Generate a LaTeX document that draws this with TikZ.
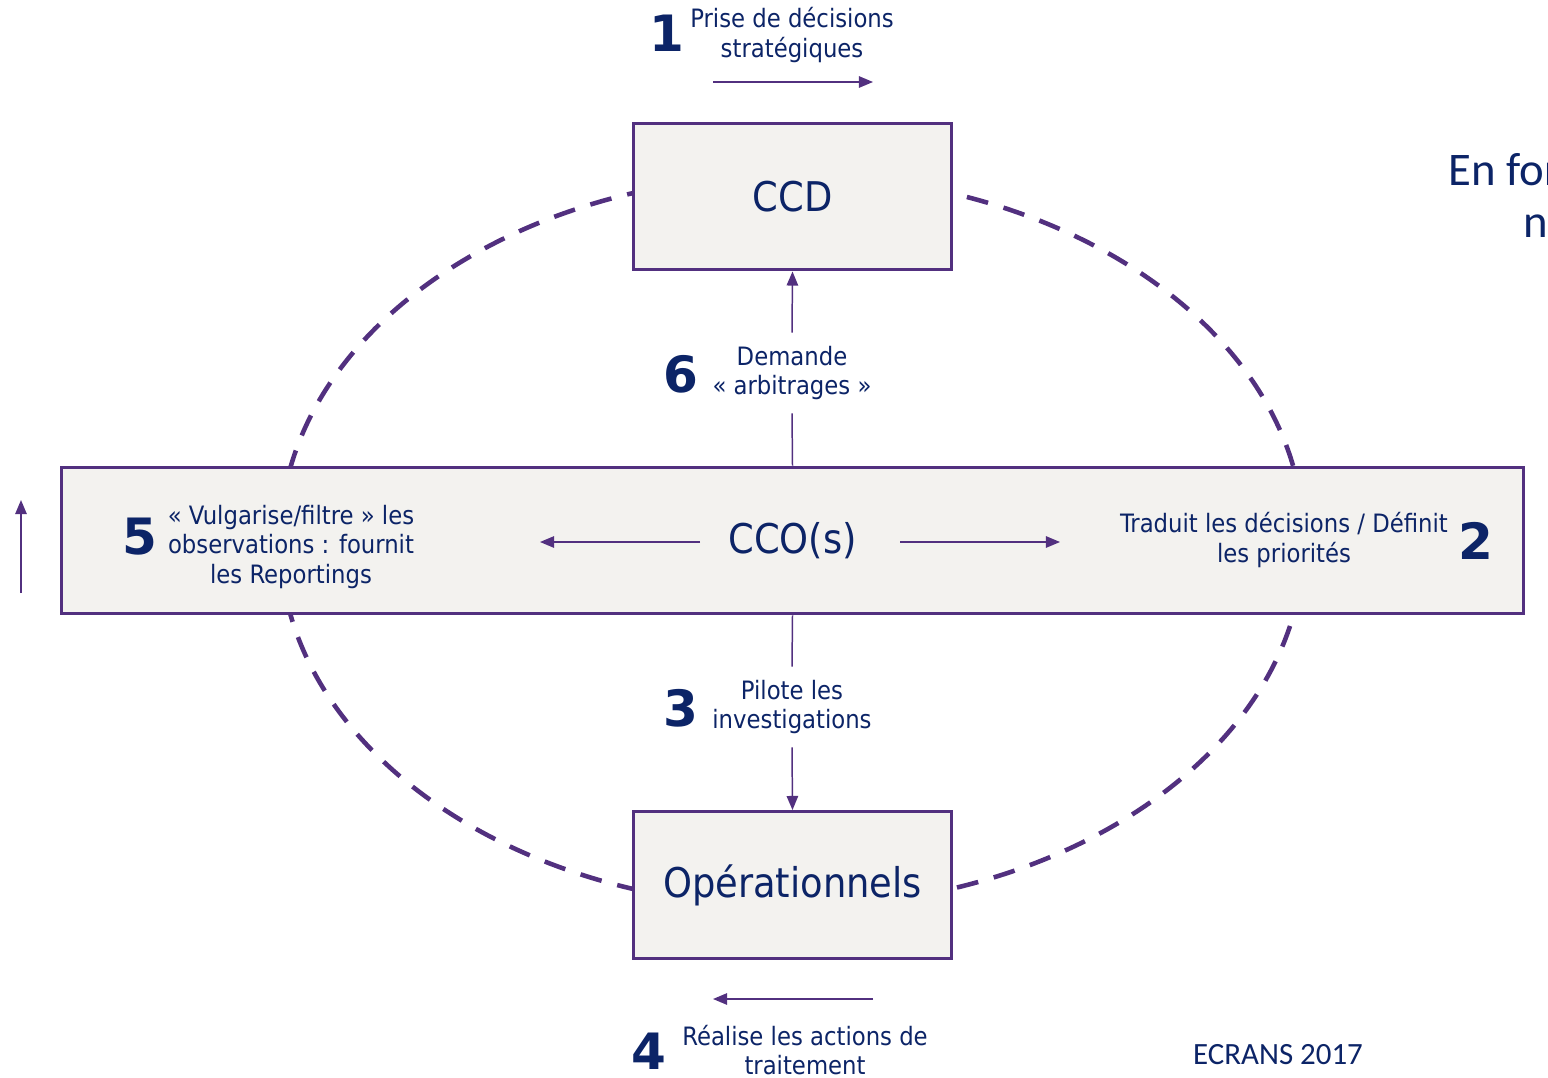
\documentclass[tikz,border=0pt]{standalone}
\usepackage{fontspec}
\setmainfont{DejaVu Sans Condensed}
\newfontfamily\numfont{DejaVu Sans}
\newfontfamily\calfont{Carlito}
\usetikzlibrary{arrows.meta, positioning}
\definecolor{gvnavy}{HTML}{0C2467}
\definecolor{gvpurple}{HTML}{52307F}
\definecolor{gvbox}{HTML}{F3F2EF}

\begin{document}
\begin{tikzpicture}[x=0.02cm, y=-0.02cm,
    box/.style={draw=gvpurple, line width=1.7pt, fill=gvbox, text=gvnavy,
                font=\fontsize{23.3}{28}\selectfont, inner sep=0pt,
                minimum height=2.94cm},
    lbl/.style={text=gvnavy, font=\fontsize{14.4}{17}\selectfont, align=center},
    num/.style={text=gvnavy, font=\numfont\bfseries\fontsize{28.5}{30}\selectfont},
    link/.style={draw=gvpurple, line width=0.85pt},
    flow/.style={link, -{Triangle[length=8pt,width=6.5pt]}},
    loop/.style={draw=gvpurple, line width=2.6pt, dash pattern=on 12.5pt off 9.2pt}]
\useasboundingbox (0,0) rectangle (1548,1078);
% Dashed loop behind the boxes
\draw[loop] (792,541) ellipse [x radius=10.24cm, y radius=7.32cm];
% Boxes
\node[box, minimum width=6.38cm] (ccd) at (792.5,196.5) {CCD};
\node[box, minimum width=29.26cm] (cco) at (792.5,540.5) {CCO(s)};
\node[box, minimum width=6.38cm] (oper) at (792.5,885) {Opérationnels};
% Step 1
\node[lbl] (l1) at (792,35) {Prise de décisions\\stratégiques};
\node[num] (n1) at (667,33) {1};
\coordinate (t1a) at (713,82);
\coordinate (t1b) at (873,82);
\draw[flow] (t1a) -- (t1b);
% Step 6
\node[lbl, minimum height=1.6cm] (l6) at (792,373) {Demande\\« arbitrages »};
\node[num] (n6) at (681,374) {6};
\draw[link] (cco.north) -- (l6.south);
\draw[flow] (l6.north) -- (ccd.south);
% Step 3
\node[lbl, minimum height=1.6cm] (l3) at (792,707) {Pilote les\\investigations};
\node[num] (n3) at (681,708) {3};
\draw[link] (cco.south) -- (l3.north);
\draw[flow] (l3.south) -- (oper.north);
% Steps 5 and 2 inside the CCO box
\node[lbl] (l5) at (291,547) {« Vulgarise/filtre » les\\observations : fournit\\les Reportings};
\node[num] (n5) at (140,537) {5};
\node[lbl] (l2) at (1284,540) {Traduit les décisions / Définit\\les priorités};
\node[num] (n2) at (1476,541) {2};
\coordinate (cl1) at (700,542);
\coordinate (cl2) at (540,542);
\coordinate (cr1) at (900,542);
\coordinate (cr2) at (1060,542);
\draw[flow] (cl1) -- (cl2);
\draw[flow] (cr1) -- (cr2);
% Step 4
\coordinate (b4a) at (873,999);
\coordinate (b4b) at (713,999);
\draw[flow] (b4a) -- (b4b);
\node[lbl] (l4) at (805,1050) {Réalise les actions de\\traitement};
\node[num] (n4) at (649,1051) {4};
% Side arrow
\coordinate (s1) at (21,593);
\coordinate (s2) at (21,500);
\draw[flow] (s1) -- (s2);
% Footer
\node[text=gvnavy, font=\calfont\fontsize{17.6}{20}\selectfont] (ecrans) at (1278,1055) {ECRANS 2017};
% Cut text on the right
\begin{scope}
\clip (0,0) rectangle (1548,1078);
\node[anchor=base west, inner sep=0pt, text=gvnavy, font=\calfont\fontsize{26.6}{30}\selectfont] (enfo) at (1448,185) {En for};
\node[anchor=base west, inner sep=0pt, text=gvnavy, font=\calfont\fontsize{26.6}{30}\selectfont] (enfo2) at (1523,237) {n};
\end{scope}
\end{tikzpicture}
\end{document}
